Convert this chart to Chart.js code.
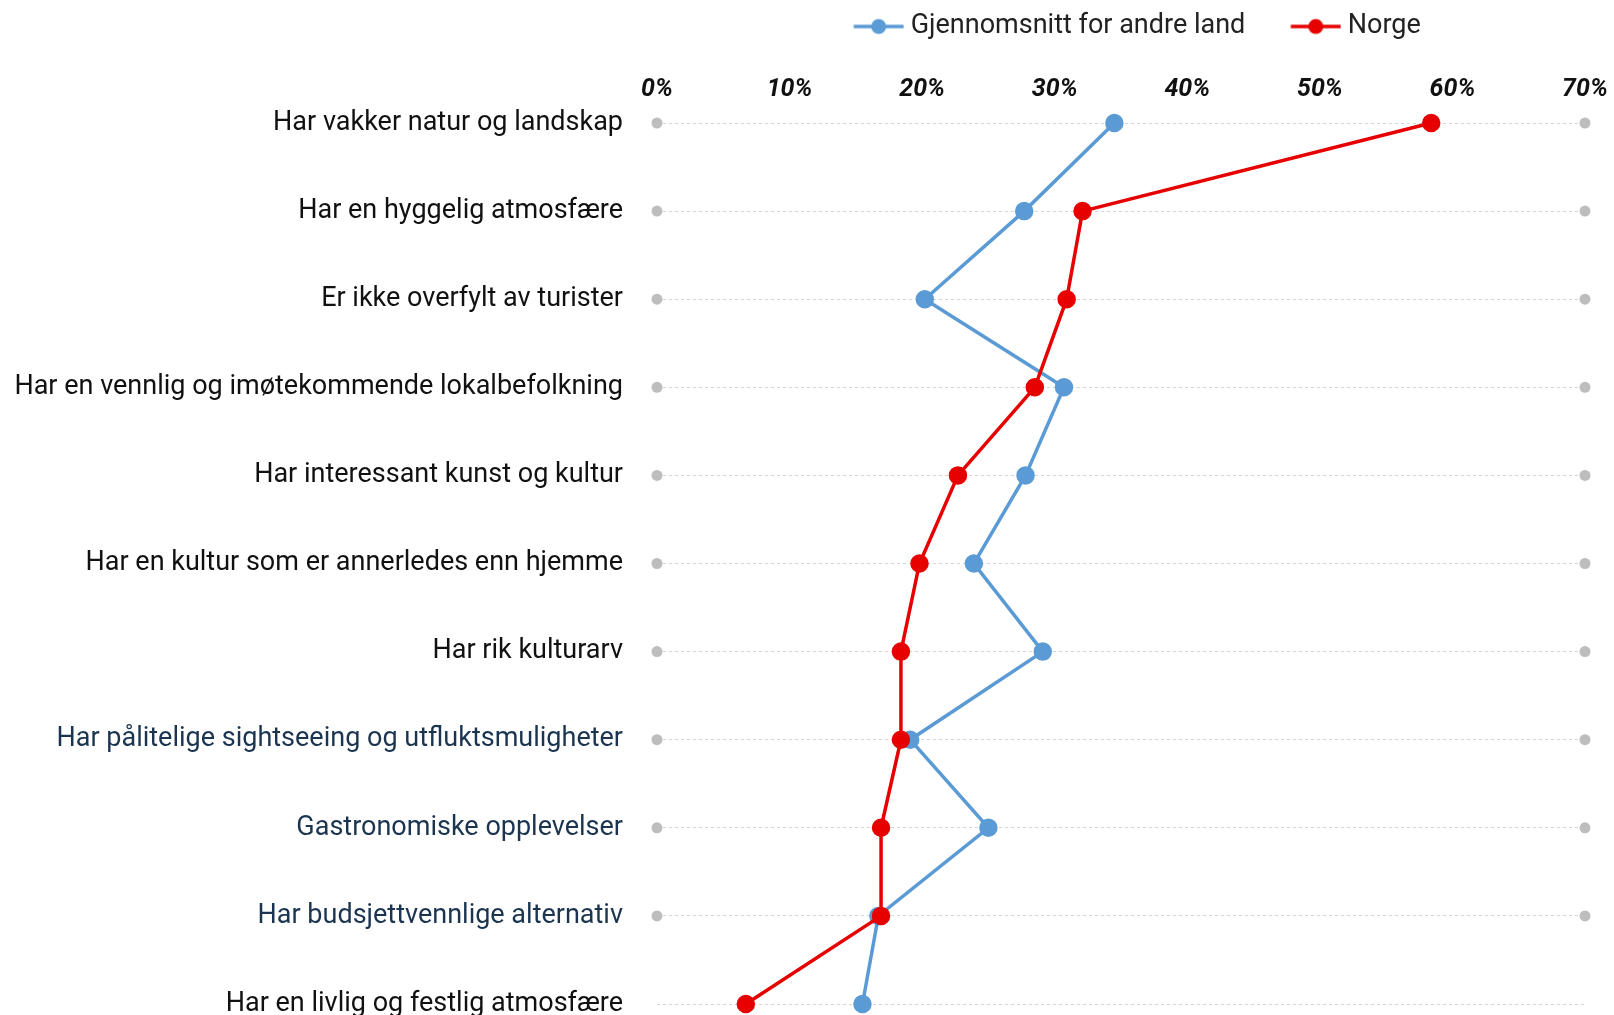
<!DOCTYPE html>
<html>
<head>
<meta charset="utf-8">
<script src="https://cdn.jsdelivr.net/npm/chart.js@4"></script>
<style>
  html, body { margin: 0; padding: 0; background: #fff; }
  #wrap { width: 1614px; height: 1015px; }
</style>
</head>
<body>
<div id="wrap"><canvas id="motiver"></canvas></div>
<script>
const kategorier = [
    'Har vakker natur og landskap',
    'Har en hyggelig atmosfære',
    'Er ikke overfylt av turister',
    'Har en vennlig og imøtekommende lokalbefolkning',
    'Har interessant kunst og kultur',
    'Har en kultur som er annerledes enn hjemme',
    'Har rik kulturarv',
    'Har pålitelige sightseeing og utfluktsmuligheter',
    'Gastronomiske opplevelser',
    'Har budsjettvennlige alternativ',
    'Har en livlig og festlig atmosfære'
];
const andreLand = [34.5, 27.7, 20.2, 30.7, 27.8, 23.9, 29.1, 19.1, 25.0, 16.7, 15.5];
const norge     = [58.4, 32.1, 30.9, 28.5, 22.7, 19.8, 18.4, 18.4, 16.9, 16.9, 6.7];
// grey end markers on each row (none on the last one)
const startPunkt = [0, 0, 0, 0, 0, 0, 0, 0, 0, 0, null];
const sluttPunkt = [70, 70, 70, 70, 70, 70, 70, 70, 70, 70, null];
const xTicks = [0, 10, 20, 30, 40, 50, 60, 70];

const blaa = '#5b9bd5';
const roed = '#e60000';
const graa = '#bdbdbd';
const marineLabels = [7, 8, 9];

// line + dot legend symbol, drawn at the right end of a wider transparent canvas
function legendSymbol(color) {
    const c = document.createElement('canvas');
    c.width = 90; c.height = 18;
    const g = c.getContext('2d');
    g.strokeStyle = color;
    g.lineWidth = 3.5;
    g.beginPath(); g.moveTo(39.5, 9); g.lineTo(89.5, 9); g.stroke();
    g.fillStyle = color;
    g.beginPath(); g.arc(64.5, 9, 7.5, 0, Math.PI * 2); g.fill();
    return c;
}
const symboler = [legendSymbol(blaa), legendSymbol(roed)];

const ctx = document.getElementById('motiver').getContext('2d');
const chart = new Chart(ctx, {
    type: 'line',
    data: {
        labels: kategorier,
        datasets: [
            {
                label: 'Gjennomsnitt for andre land',
                data: andreLand,
                borderColor: blaa,
                backgroundColor: blaa,
                borderWidth: 3.5,
                pointRadius: 7.5,
                pointHoverRadius: 7.5,
                order: 1,
                clip: false
            },
            {
                label: 'Norge',
                data: norge,
                borderColor: roed,
                backgroundColor: roed,
                borderWidth: 3.5,
                pointRadius: 7.5,
                pointHoverRadius: 7.5,
                order: 0,
                clip: false
            },
            {
                label: 'start',
                data: startPunkt,
                showLine: false,
                pointRadius: 5.5,
                backgroundColor: graa,
                borderColor: graa,
                borderWidth: 0,
                order: 2,
                clip: false
            },
            {
                label: 'slutt',
                data: sluttPunkt,
                showLine: false,
                pointRadius: 5.5,
                backgroundColor: graa,
                borderColor: graa,
                borderWidth: 0,
                order: 2,
                clip: false
            }
        ]
    },
    options: {
        indexAxis: 'y',
        responsive: true,
        maintainAspectRatio: false,
        animation: false,
        layout: { padding: { top: 0, right: 29, bottom: 11, left: 0 } },
        plugins: {
            tooltip: { enabled: false },
            legend: {
                position: 'top',
                fullSize: false,
                labels: {
                    usePointStyle: true,
                    pointStyleWidth: 76,
                    color: '#222',
                    padding: 13,
                    font: { family: 'Roboto', size: 27 },
                    generateLabels: function(chart) {
                        const items = Chart.defaults.plugins.legend.labels.generateLabels(chart);
                        return items
                            .filter(it => it.datasetIndex < 2)
                            .sort((a, b) => a.datasetIndex - b.datasetIndex)
                            .map(it => Object.assign(it, { pointStyle: symboler[it.datasetIndex] }));
                    }
                }
            }
        },
        scales: {
            x: {
                position: 'top',
                min: 0,
                max: 70,
                afterBuildTicks: function(scale) {
                    scale.ticks = xTicks.map(v => ({ value: v }));
                },
                afterFit: function(scale) {
                    const lh = (scale.chart.legend && scale.chart.legend.height) || 58;
                    scale.height = 123 - lh;
                    scale.paddingLeft = 0;
                    scale.paddingRight = 0;
                },
                grid: { display: false },
                border: { display: false },
                ticks: {
                    padding: 10,
                    color: '#111',
                    font: { family: 'Roboto', size: 25, weight: 'bold', style: 'italic' },
                    callback: function(value) {
                        return value + '%';
                    }
                }
            },
            y: {
                afterFit: function(scale) {
                    scale.width = 657;
                    scale.paddingTop = 0;
                    scale.paddingBottom = 0;
                },
                grid: {
                    color: '#d6d6d6',
                    lineWidth: 1,
                    drawTicks: false
                },
                border: { display: false, dash: [3, 3] },
                ticks: {
                    padding: 34,
                    font: { family: 'Roboto', size: 27 },
                    color: function(c) {
                        return marineLabels.includes(c.index) ? '#1b3550' : '#111';
                    }
                }
            }
        }
    }
});
</script>
</body>
</html>
